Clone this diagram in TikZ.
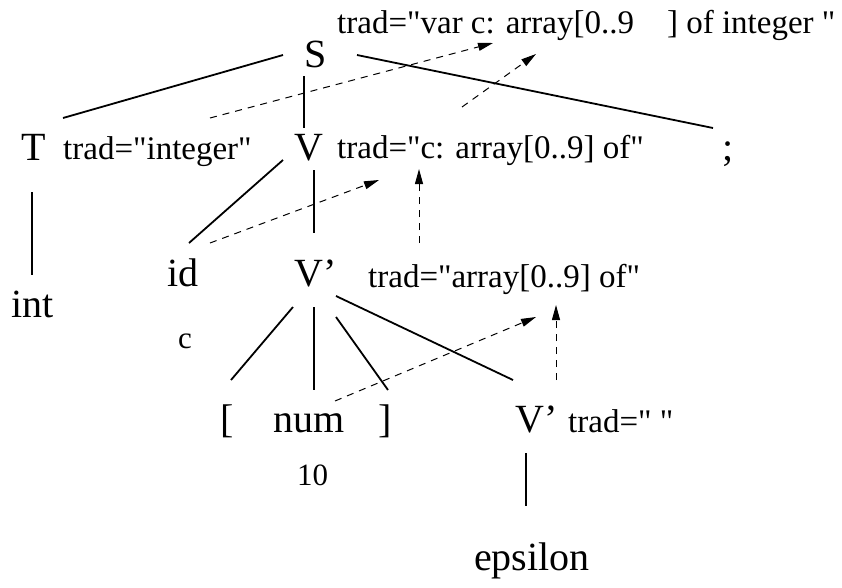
\documentclass[tikz,border=0pt]{standalone}
\usepackage{fontspec}
\setmainfont{Liberation Serif}[Ligatures=TeXOff]
\usetikzlibrary{arrows.meta}
\begin{document}
\begin{tikzpicture}[x=1pt,y=-1pt,
  big/.style={inner sep=0pt,anchor=base west,font=\fontsize{40}{48}\selectfont},
  lab/.style={inner sep=0pt,anchor=base west,font=\fontsize{33}{40}\selectfont},
  val/.style={inner sep=0pt,anchor=base west,font=\fontsize{31}{37}\selectfont},
  treeedge/.style={line width=1.8pt},
  flow/.style={line width=1pt,dash pattern=on 7pt off 6pt,-{Triangle[length=15pt,width=8pt]}}]
\useasboundingbox (0,0) rectangle (842,587);
% symbols
\node[big] (S)   at (304,67)  {S};
\node[big] (T)   at (21,160)  {T};
\node[big] (V)   at (294,160) {V};
\node[big] (semi) at (722,160) {;};
\node[big] (int) at (11,317)  {int};
\node[big] (id)  at (167,286) {id};
\node[big] (Vp)  at (294,286) {V’};
\node[big] (lb)  at (220,432) {[};
\node[big] (num) at (273,432) {num};
\node[big] (rb)  at (378,432) {]};
\node[big] (Vpp) at (515,432) {V’};
\node[big] (eps) at (474,570) {epsilon};
% attribute labels
\node[lab] (Slab)   at (337,33)  {trad="var c: array[0..9\hspace{33pt}] of integer "};
\node[lab] (Tlab)   at (63,159)  {trad="integer"};
\node[lab] (Vlab)   at (337,158) {trad="c: array[0..9] of"};
\node[lab] (Vplab)  at (368,287) {trad="array[0..9] of"};
\node[lab] (Vpplab) at (568,432) {trad=" "};
\node[val] (cval)   at (178,348) {c};
\node[val] (tenval) at (297,485) {10};
% tree edges
\draw[treeedge] ([shift={(-21,-12)}]S.base west) -- ([shift={(42,-42)}]T.base west);
\draw[treeedge] ([shift={(0,9)}]S.base west) -- ([shift={(10,-32)}]V.base west);
\draw[treeedge] ([shift={(53,-12)}]S.base west) -- ([shift={(-9,-32)}]semi.base west);
\draw[treeedge] ([shift={(11,32)}]T.base west) -- ([shift={(21,-42)}]int.base west);
\draw[treeedge] ([shift={(-11,0)}]V.base west) -- ([shift={(22,-43)}]id.base west);
\draw[treeedge] ([shift={(20,10)}]V.base west) -- ([shift={(20,-53)}]Vp.base west);
\draw[treeedge] ([shift={(-1,21)}]Vp.base west) -- ([shift={(11,-52)}]lb.base west);
\draw[treeedge] ([shift={(20,21)}]Vp.base west) -- ([shift={(41,-42)}]num.base west);
\draw[treeedge] ([shift={(42,31)}]Vp.base west) -- ([shift={(10,-42)}]rb.base west);
\draw[treeedge] ([shift={(42,10)}]Vp.base west) -- ([shift={(-2,-52)}]Vpp.base west);
\draw[treeedge] ([shift={(11,21)}]Vpp.base west) -- ([shift={(52,-64)}]eps.base west);
% attribute flow
\draw[flow] ([shift={(147,-41)}]Tlab.base west) -- ([shift={(156,10)}]Slab.base west);
\draw[flow] ([shift={(125,-51)}]Vlab.base west) -- ([shift={(199,21)}]Slab.base west);
\draw[flow] ([shift={(43,-43)}]id.base west) -- ([shift={(42,22)}]Vlab.base west);
\draw[flow] ([shift={(51,-44)}]Vplab.base west) -- ([shift={(82,11)}]Vlab.base west);
\draw[flow] ([shift={(62,-31)}]num.base west) -- ([shift={(168,30)}]Vplab.base west);
\draw[flow] ([shift={(-12,-52)}]Vpplab.base west) -- ([shift={(188,18)}]Vplab.base west);
\end{tikzpicture}
\end{document}
